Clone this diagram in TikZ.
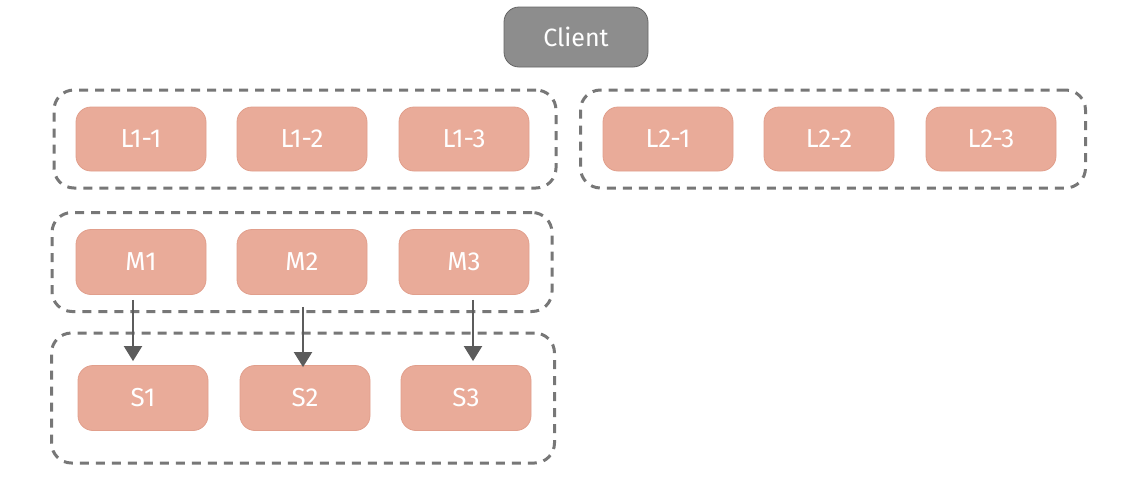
\documentclass[tikz,border=0pt]{standalone}
\usepackage{fontspec}
\setmainfont{Fira Sans}
\usetikzlibrary{arrows.meta}
\definecolor{salmon}{HTML}{E9AB99}
\definecolor{salmonline}{HTML}{E19F8C}
\definecolor{clientgray}{HTML}{8D8D8D}
\definecolor{dashgray}{HTML}{777777}
\definecolor{arrowgray}{HTML}{5C5C5C}
\begin{document}
\begin{tikzpicture}[x=1pt,y=-1pt,
    box/.style={rectangle,rounded corners=15pt,fill=salmon,draw=salmonline,line width=0.8pt,
      minimum width=130pt,minimum height=64pt,text=white,font=\fontsize{26}{30}\selectfont},
    client/.style={box,fill=clientgray,draw=black!60,minimum width=144pt,minimum height=60pt,
      font=\fontsize{25}{30}\selectfont},
    group/.style={rectangle,rounded corners=20pt,draw=dashgray,line width=3pt,
      dash pattern=on 9pt off 7pt,inner sep=0pt},
    link/.style={draw=arrowgray,line width=2pt,-{Triangle[length=15pt,width=18pt]}}]
    %\draw (0,0) grid[step=100] (1142,480);
    \useasboundingbox (0,0) rectangle (1142,480);
      % Groups
      \node[group,minimum width=502pt,minimum height=98pt] (G1) at (305,139) {};
      \node[group,minimum width=505pt,minimum height=98pt] (G2) at (833,139) {};
      \node[group,minimum width=500pt,minimum height=99pt] (GM) at (302,262) {};
      \node[group,minimum width=503pt,minimum height=130pt] (GS) at (303,398) {};
      % Boxes
      \node[client] (Client) at (576,37) {Client};
      \node[box] (L11) at (141,139) {L1-1};
      \node[box] (L12) at (302,139) {L1-2};
      \node[box] (L13) at (464,139) {L1-3};
      \node[box] (L21) at (668,139) {L2-1};
      \node[box] (L22) at (829,139) {L2-2};
      \node[box] (L23) at (991,139) {L2-3};
      \node[box,minimum height=65pt] (M1) at (141,262) {M1};
      \node[box,minimum height=65pt] (M2) at (302,262) {M2};
      \node[box,minimum height=65pt] (M3) at (464,262) {M3};
      \node[box,minimum height=65pt] (S1) at (143,398) {S1};
      \node[box,minimum height=65pt] (S2) at (305,398) {S2};
      \node[box,minimum height=65pt] (S3) at (466,398) {S3};
      % Edges M to S
      \draw[link] ([xshift=-8pt,yshift=-5pt]M1.south) -- ([xshift=-10pt,yshift=4pt]S1.north);
      \draw[link] ([xshift=1pt,yshift=-12pt]M2.south) -- ([xshift=-2pt,yshift=-2pt]S2.north);
      \draw[link] ([xshift=9pt,yshift=-5pt]M3.south) -- ([xshift=7pt,yshift=4pt]S3.north);
    \end{tikzpicture}
\end{document}
